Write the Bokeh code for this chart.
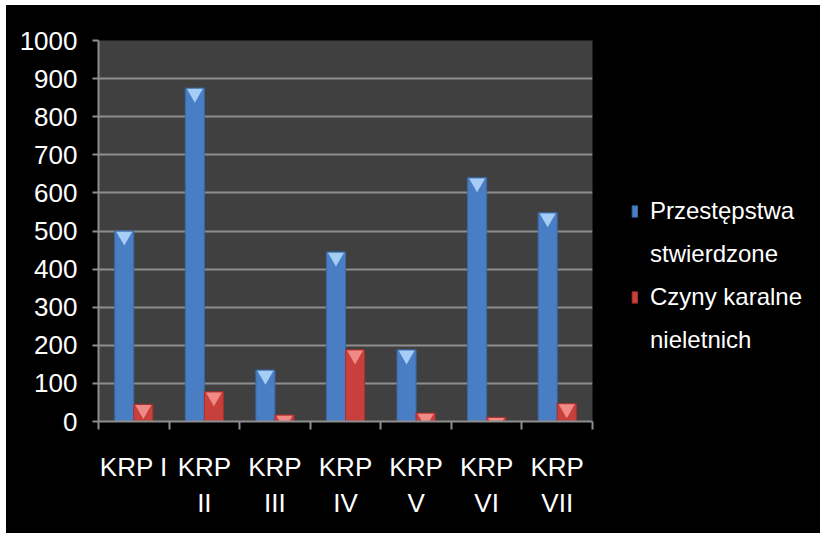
from bokeh.plotting import figure
from bokeh.layouts import row
from bokeh.models import ColumnDataSource, Range1d, FixedTicker, Legend, LegendItem
from bokeh.transform import dodge
from bokeh.embed import file_html
from bokeh.resources import INLINE

categories = ["KRP I", "KRP\nII", "KRP\nIII", "KRP\nIV", "KRP\nV", "KRP\nVI", "KRP\nVII"]
przestepstwa = [500, 875, 135, 445, 188, 640, 548]
czyny = [45, 78, 17, 188, 22, 11, 47]
series_lines = [["Przestępstwa", "stwierdzone"], ["Czyny karalne", "nieletnich"]]
y_ticks = list(range(0, 1001, 100))

FONT = "Liberation Sans"
GRID = "#8e8e8e"
BLUE, BLUE_EDGE, BLUE_HI = "#4a7ec4", "#3a68a8", "#a6cdf5"
RED, RED_EDGE, RED_HI = "#c8403c", "#a83030", "#f08a86"

xs = list(range(len(categories)))
src = ColumnDataSource(dict(x=xs, a=przestepstwa, b=czyny))

p = figure(width=594, height=528, output_backend="svg", toolbar_location=None,
           x_range=Range1d(-0.5, len(categories) - 0.5), y_range=Range1d(0, 1000),
           background_fill_color="#404040", border_fill_color="black",
           outline_line_color=None, min_border_left=92, min_border_right=8,
           min_border_top=35, min_border_bottom=112)

W = 0.27
p.vbar(x=dodge("x", -0.135, range=p.x_range), top="a", width=W, source=src,
       fill_color=BLUE, line_color=BLUE_EDGE, line_width=1)
p.vbar(x=dodge("x", 0.135, range=p.x_range), top="b", width=W, source=src,
       fill_color=RED, line_color=RED_EDGE, line_width=1)
# light bevel triangles at the bar tops
p.scatter(x=dodge("x", -0.135, range=p.x_range), y=dodge("a", -14, range=p.y_range),
          marker="inverted_triangle", size=16, source=src,
          fill_color=BLUE_HI, line_color=None)
p.scatter(x=dodge("x", 0.135, range=p.x_range), y=dodge("b", -14, range=p.y_range),
          marker="inverted_triangle", size=16, source=src,
          fill_color=RED_HI, line_color=None)

# axes
p.yaxis.ticker = FixedTicker(ticks=y_ticks)
p.yaxis.axis_line_color = GRID
p.yaxis.axis_line_width = 2
p.yaxis.major_tick_line_color = GRID
p.yaxis.major_tick_line_width = 2
p.yaxis.major_tick_in = 0
p.yaxis.major_tick_out = 6
p.yaxis.minor_tick_line_color = None
p.yaxis.major_label_text_color = "white"
p.yaxis.major_label_text_font = FONT
p.yaxis.major_label_text_font_size = "26px"
p.yaxis.major_label_standoff = 15

p.xaxis.ticker = FixedTicker(ticks=xs, minor_ticks=[i - 0.5 for i in range(len(categories) + 1)])
p.xaxis.major_label_overrides = {i: c for i, c in zip(xs, categories)}
p.xaxis.axis_line_color = GRID
p.xaxis.axis_line_width = 2
p.xaxis.major_tick_line_color = None
p.xaxis.major_tick_in = 0
p.xaxis.major_tick_out = 0
p.xaxis.minor_tick_line_color = GRID
p.xaxis.minor_tick_line_width = 2
p.xaxis.minor_tick_in = 0
p.xaxis.minor_tick_out = 8
p.xaxis.major_label_text_color = "white"
p.xaxis.major_label_text_font = FONT
p.xaxis.major_label_text_font_size = "26px"
p.xaxis.major_label_standoff = 22

p.xgrid.grid_line_color = None
p.ygrid.grid_line_color = GRID
p.ygrid.grid_line_width = 2

# legend panel (a second, axis-less figure to the right)
q = figure(width=220, height=528, output_backend="svg", toolbar_location=None,
           x_range=Range1d(0, 1), y_range=Range1d(0, 1),
           x_axis_location=None, y_axis_location=None,
           background_fill_color="black", background_fill_alpha=0,
           border_fill_color="black", outline_line_color=None, min_border=0)
q.grid.visible = False
# legend proxies, placed far outside the visible range of this panel
l1 = q.vbar(x=[1000], bottom=[1000], top=[1001], width=0.1, fill_color=BLUE, line_color=BLUE_EDGE)
l2 = q.vbar(x=[1000], bottom=[1000], top=[1001], width=0.1, fill_color=RED, line_color=RED_EDGE)
lb = q.vbar(x=[1000], bottom=[1000], top=[1001], width=0.1, fill_alpha=0, line_alpha=0)

items = [
    LegendItem(label=series_lines[0][0], renderers=[l1]),
    LegendItem(label=series_lines[0][1], renderers=[lb]),
    LegendItem(label=series_lines[1][0], renderers=[l2]),
    LegendItem(label=series_lines[1][1], renderers=[lb]),
]
legend = Legend(items=items, location=(31, 67), padding=0, margin=0, spacing=15,
                border_line_color=None, background_fill_color=None,
                background_fill_alpha=0, glyph_width=7, glyph_height=14,
                label_height=0,
                label_text_color="white", label_text_font=FONT,
                label_text_font_size="24px", label_standoff=12)
q.add_layout(legend)

layout = row(p, q, spacing=0)
layout.margin = (5, 0, 0, 6)
layout.styles = {"background-color": "black"}

open("out.html", "w").write(file_html(layout, INLINE))
